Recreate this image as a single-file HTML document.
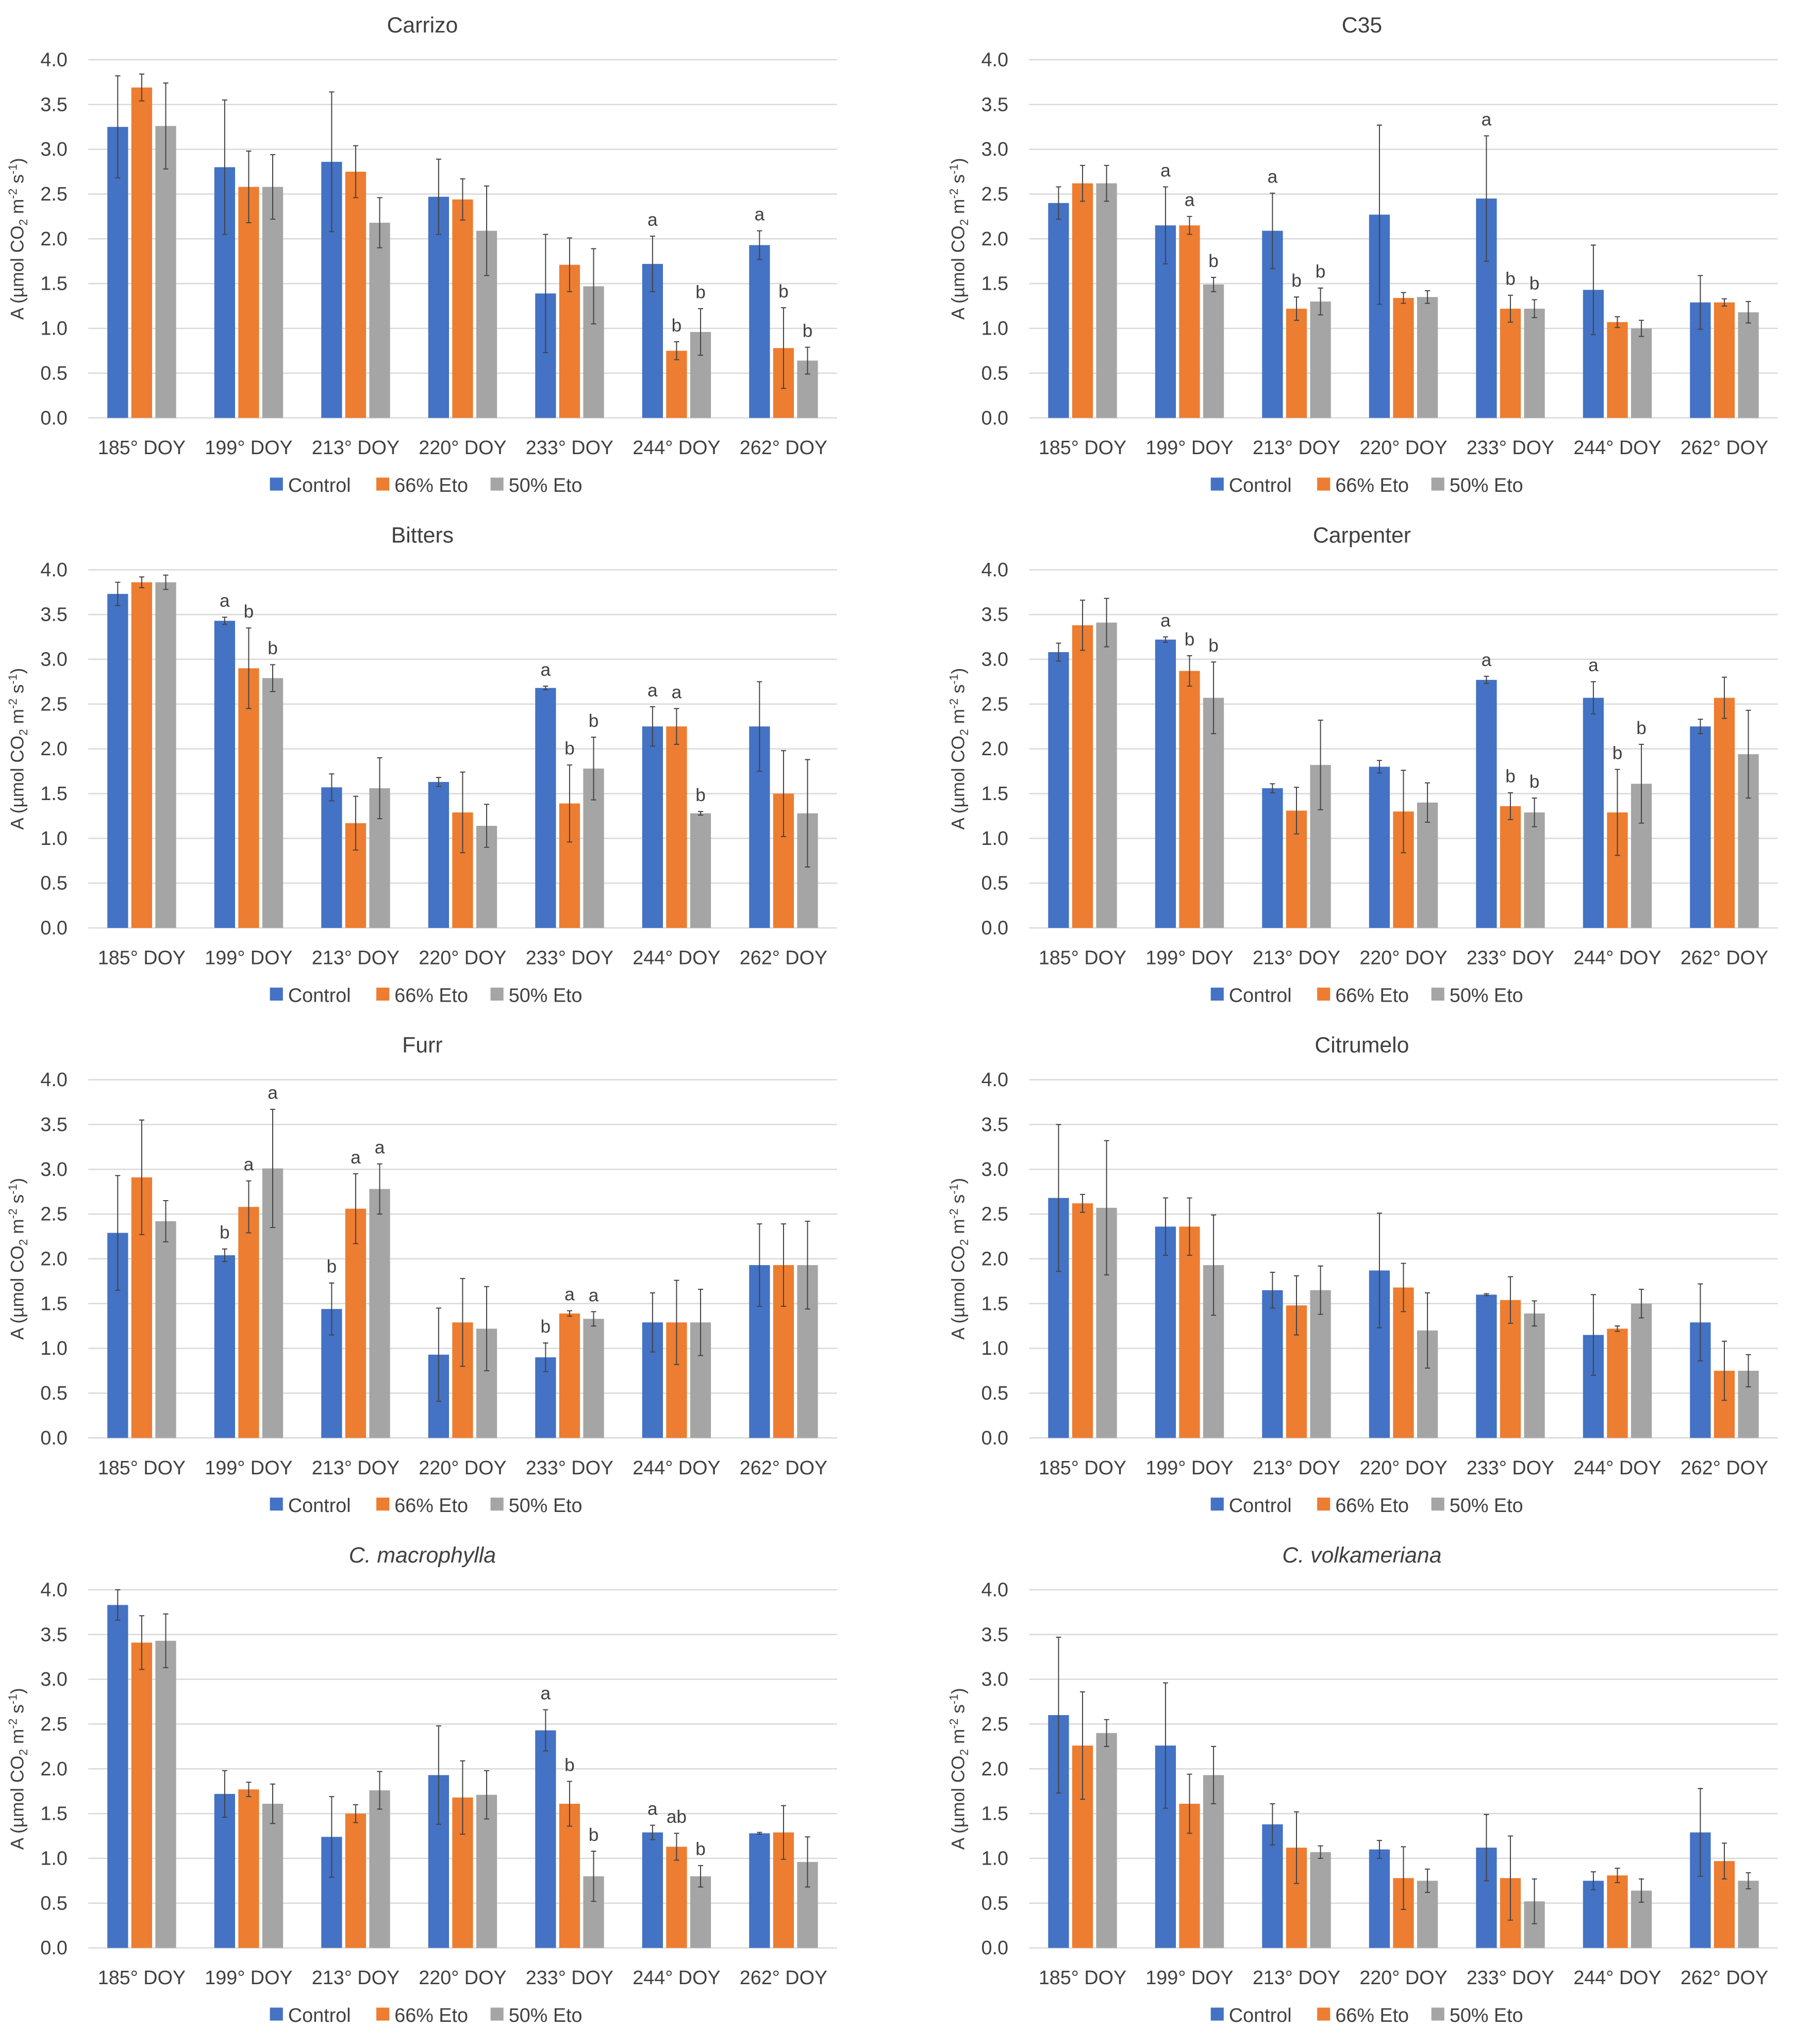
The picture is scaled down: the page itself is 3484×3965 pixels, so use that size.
<!DOCTYPE html>
<html><head><meta charset="utf-8"><style>
html,body{margin:0;padding:0;background:#fff}
svg{display:block}
text{font-family:"Liberation Sans",sans-serif;fill:#404040}
</style></head><body>
<svg id="fig" width="3484" height="3965" viewBox="0 0 1384 1575" xmlns="http://www.w3.org/2000/svg"></svg>
<script>
const categories = ["185° DOY","199° DOY","213° DOY","220° DOY","233° DOY","244° DOY","262° DOY"];
const yTicks = [0,0.5,1,1.5,2,2.5,3,3.5,4];
const seriesNames = ["Control","66% Eto","50% Eto"];
const titles = ["Carrizo","C35","Bitters","Carpenter","Furr","Citrumelo","C. macrophylla","C. volkameriana"];
const controlVals = [
 [3.25,2.8,2.86,2.47,1.39,1.72,1.93],[2.4,2.15,2.09,2.27,2.45,1.43,1.29],
 [3.73,3.43,1.57,1.63,2.68,2.25,2.25],[3.08,3.22,1.56,1.8,2.77,2.57,2.25],
 [2.29,2.04,1.44,0.93,0.9,1.29,1.93],[2.68,2.36,1.65,1.87,1.6,1.15,1.29],
 [3.83,1.72,1.24,1.93,2.43,1.29,1.28],[2.6,2.26,1.38,1.1,1.12,0.75,1.29]];
const controlErr = [
 [0.57,0.75,0.78,0.42,0.66,0.31,0.16],[0.18,0.43,0.42,1.0,0.7,0.5,0.3],
 [0.13,0.04,0.15,0.05,0.02,0.22,0.5],[0.1,0.03,0.05,0.07,0.04,0.18,0.08],
 [0.64,0.07,0.29,0.52,0.16,0.33,0.46],[0.82,0.32,0.2,0.64,0.01,0.45,0.43],
 [0.17,0.26,0.45,0.55,0.23,0.08,0.01],[0.87,0.7,0.23,0.1,0.37,0.1,0.49]];
const eto66Vals = [
 [3.69,2.58,2.75,2.44,1.71,0.75,0.78],[2.62,2.15,1.22,1.34,1.22,1.07,1.29],
 [3.86,2.9,1.17,1.29,1.39,2.25,1.5],[3.38,2.87,1.31,1.3,1.36,1.29,2.57],
 [2.91,2.58,2.56,1.29,1.39,1.29,1.93],[2.62,2.36,1.48,1.68,1.54,1.22,0.75],
 [3.41,1.77,1.5,1.68,1.61,1.13,1.29],[2.26,1.61,1.12,0.78,0.78,0.81,0.97]];
const eto66Err = [
 [0.15,0.4,0.29,0.23,0.3,0.1,0.45],[0.2,0.1,0.13,0.06,0.15,0.06,0.04],
 [0.06,0.45,0.3,0.45,0.43,0.2,0.48],[0.28,0.17,0.26,0.46,0.15,0.48,0.23],
 [0.64,0.29,0.39,0.49,0.03,0.47,0.46],[0.1,0.32,0.33,0.27,0.26,0.03,0.33],
 [0.3,0.08,0.1,0.41,0.25,0.15,0.3],[0.6,0.33,0.4,0.35,0.47,0.08,0.2]];
const eto50Vals = [
 [3.26,2.58,2.18,2.09,1.47,0.96,0.64],[2.62,1.49,1.3,1.35,1.22,1.0,1.18],
 [3.86,2.79,1.56,1.14,1.78,1.28,1.28],[3.41,2.57,1.82,1.4,1.29,1.61,1.94],
 [2.42,3.01,2.78,1.22,1.33,1.29,1.93],[2.57,1.93,1.65,1.2,1.39,1.5,0.75],
 [3.43,1.61,1.76,1.71,0.8,0.8,0.96],[2.4,1.93,1.07,0.75,0.52,0.64,0.75]];
const eto50Err = [
 [0.48,0.36,0.28,0.5,0.42,0.26,0.15],[0.2,0.08,0.15,0.07,0.1,0.09,0.12],
 [0.08,0.15,0.34,0.24,0.35,0.02,0.6],[0.27,0.4,0.5,0.22,0.16,0.44,0.49],
 [0.23,0.66,0.28,0.47,0.08,0.37,0.49],[0.75,0.56,0.27,0.42,0.14,0.16,0.18],
 [0.3,0.22,0.21,0.27,0.28,0.12,0.28],[0.15,0.32,0.07,0.13,0.25,0.13,0.09]];
// letters: [chart, category, series, label]
const letters = [
 [0,5,0,"a"],[0,5,1,"b"],[0,5,2,"b"],[0,6,0,"a"],[0,6,1,"b"],[0,6,2,"b"],
 [1,1,0,"a"],[1,1,1,"a"],[1,1,2,"b"],[1,2,0,"a"],[1,2,1,"b"],[1,2,2,"b"],[1,4,0,"a"],[1,4,1,"b"],[1,4,2,"b"],
 [2,1,0,"a"],[2,1,1,"b"],[2,1,2,"b"],[2,4,0,"a"],[2,4,1,"b"],[2,4,2,"b"],[2,5,0,"a"],[2,5,1,"a"],[2,5,2,"b"],
 [3,1,0,"a"],[3,1,1,"b"],[3,1,2,"b"],[3,4,0,"a"],[3,4,1,"b"],[3,4,2,"b"],[3,5,0,"a"],[3,5,1,"b"],[3,5,2,"b"],
 [4,1,0,"b"],[4,1,1,"a"],[4,1,2,"a"],[4,2,0,"b"],[4,2,1,"a"],[4,2,2,"a"],[4,4,0,"b"],[4,4,1,"a"],[4,4,2,"a"],
 [6,4,0,"a"],[6,4,1,"b"],[6,4,2,"b"],[6,5,0,"a"],[6,5,1,"ab"],[6,5,2,"b"]];

const colors = ["#4472C4","#ED7D31","#A5A5A5"];
const NS = "http://www.w3.org/2000/svg";
const svg = document.getElementById("fig");
function mk(tag, attrs, parent){const e=document.createElementNS(NS,tag);for(const k in attrs)e.setAttribute(k,attrs[k]);(parent||svg).appendChild(e);return e;}

for (let c=0;c<8;c++){
  const col=c%2,row=Math.floor(c/2);
  const x0=col?793:68, x1=col?1370:645;
  const yBase=322+row*393, unit=69;
  const ys=v=>yBase-v*unit;
  const gw=(x1-x0)/categories.length;
  const xs=i=>x0+gw*(i+0.5);
  const g=mk("g",{});
  
  
  const t=mk("text",{x:(x0+x1)/2-(col?32:31),y:yBase-297,"text-anchor":"middle","font-size":17,"font-style":c>=6?"italic":"normal",fill:"#333"},g);
  t.textContent=titles[c];
  
  
  yTicks.forEach(v=>{
    const l=mk("line",{x1:x0,x2:x1,y1:ys(v),y2:ys(v),stroke:"#d9d9d9","stroke-width":1},g);
    
    
    const tt=mk("text",{x:x0-16,y:ys(v)+5,"text-anchor":"end","font-size":15},g);
    tt.textContent=v.toFixed(1);
    
    
  });
  const yl=mk("text",{transform:`translate(${x0-50},${yBase-138}) rotate(-90)`,"text-anchor":"middle","font-size":14},g);
  yl.innerHTML='A (µmol CO<tspan font-size="9" dy="3">2</tspan><tspan dy="-3"> m</tspan><tspan font-size="9" dy="-5">-2</tspan><tspan dy="5"> s</tspan><tspan font-size="9" dy="-5">-1</tspan><tspan dy="5">)</tspan>';
  
  
  const vals=[controlVals[c],eto66Vals[c],eto50Vals[c]], errs=[controlErr[c],eto66Err[c],eto50Err[c]];
  categories.forEach((cat,i)=>{
    for(let s=0;s<3;s++){
      const v=vals[s][i],e=errs[s][i],cx=xs(i)+(s-1)*18.5;
      const r=mk("rect",{x:cx-8,y:ys(v),width:16,height:v*unit,fill:colors[s]},g);
      
      
      const eb=mk("path",{d:`M${cx},${ys(v+e)}V${ys(Math.max(0,v-e))}M${cx-2},${ys(v+e)}h4M${cx-2},${ys(Math.max(0,v-e))}h4`,stroke:"#444","stroke-width":0.8,fill:"none"},g);
      
      
    }
    const ct=mk("text",{x:xs(i),y:yBase+28,"text-anchor":"middle","font-size":15},g);
    ct.textContent=cat;
    
    
  });
  letters.filter(L=>L[0]===c).forEach(L=>{
    const [_,i,s,lab]=L;const v=vals[s][i]+errs[s][i];
    const lt=mk("text",{x:xs(i)+(s-1)*18.5,y:ys(v)-8,"text-anchor":"middle","font-size":14,fill:"#222"},g);
    lt.textContent=lab;
    
    
  });
  const lx=x0+140, ly=yBase+57;
  const offs=[0,82,170];
  seriesNames.forEach((n,s)=>{
    const le=mk("g",{},g);
    
    
    mk("rect",{x:lx+offs[s],y:ly-11,width:10,height:10,fill:colors[s]},le);
    const tx=mk("text",{x:lx+offs[s]+14,y:ly,"font-size":15},le);
    tx.textContent=n;
  });
}
</script>
</body></html>
